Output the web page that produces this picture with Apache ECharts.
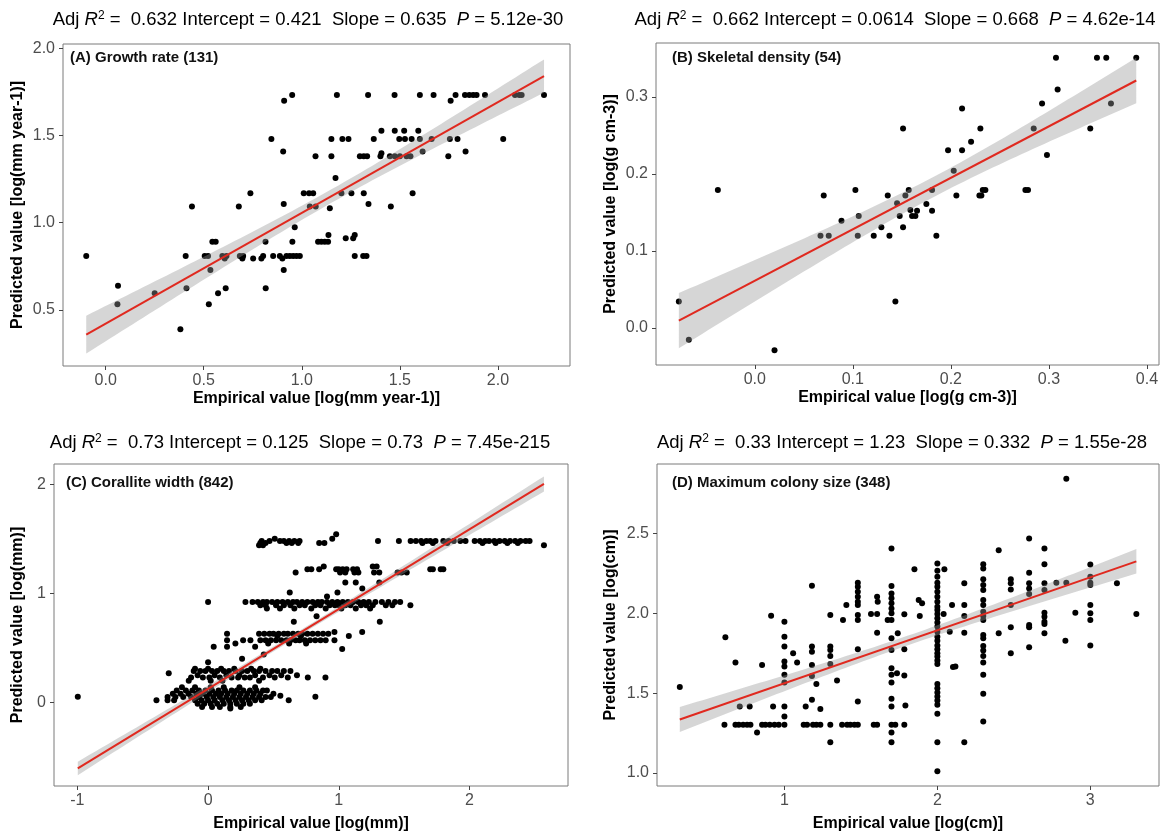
<!DOCTYPE html>
<html>
<head>
<meta charset="utf-8">
<script src="https://cdn.jsdelivr.net/npm/echarts@6/dist/echarts.min.js"></script>
<style>
  html, body { margin: 0; padding: 0; background: #ffffff; }
  #chart { width: 1168px; height: 837px; }
</style>
</head>
<body>
<div id="chart"></div>
<script>
// ---------- Panel (A): growth rate, rows of [predicted, [empirical...]] ----------
const growthRows = [
  [1.731, [0.951, 1.179, 1.338, 1.473, 1.602, 1.672, 1.784, 1.832, 1.854, 1.874, 1.891, 1.934, 2.087, 2.109, 2.121, 2.235]],
  [1.698, [0.910, 1.759]],
  [1.527, [1.406, 1.474, 1.522, 1.594]],
  [1.479, [0.845, 1.151, 1.207, 1.238, 1.367, 1.497, 1.526, 1.560, 1.602, 1.662, 1.755, 1.794, 2.027]],
  [1.407, [0.905, 1.616, 1.835]],
  [1.397, [1.406]],
  [1.380, [1.070, 1.151, 1.296, 1.316, 1.333, 1.401, 1.449, 1.474, 1.500, 1.534, 1.554, 1.747]],
  [1.256, [1.172]],
  [1.168, [0.738, 1.010, 1.037, 1.058, 1.202, 1.253, 1.316, 1.565]],
  [1.107, [0.908, 1.340]],
  [1.092, [0.440, 0.679, 1.041, 1.071, 1.454]],
  [1.082, [1.143]],
  [0.973, [0.964]],
  [0.929, [1.136, 1.270]],
  [0.910, [1.224, 1.262]],
  [0.891, [0.544, 0.561, 0.815, 0.952, 1.083, 1.100, 1.117, 1.134]],
  [0.809, [-0.099, 0.408, 0.505, 0.522, 0.595, 0.616, 0.684, 0.701, 0.803, 0.854, 0.888, 0.922, 0.939, 0.956, 0.973, 0.990, 1.270, 1.313, 1.330]],
  [0.794, [0.607, 0.697, 0.752, 0.794, 0.901]],
  [0.729, [0.534, 0.908]],
  [0.638, [0.063]],
  [0.624, [0.412, 0.612, 0.816]],
  [0.595, [0.250, 0.573]],
  [0.532, [0.060, 0.526]],
  [0.389, [0.381]]
];

// ---------- Panel (B): skeletal density ----------
const densityRows = [
  [0.3509, [0.3072, 0.3490, 0.3585, 0.3891]],
  [0.3095, [0.3089]],
  [0.2914, [0.2930, 0.3633]],
  [0.2849, [0.2114]],
  [0.2590, [0.1512, 0.2301, 0.2845, 0.3422]],
  [0.2417, [0.2206]],
  [0.2309, [0.1971, 0.2114]],
  [0.2245, [0.2980]],
  [0.2042, [0.2029]],
  [0.1791, [-0.0377, 0.1026, 0.1570, 0.1808, 0.2325, 0.2352, 0.2760, 0.2787]],
  [0.1722, [0.0703, 0.1356, 0.1536, 0.2056, 0.2291, 0.2311]],
  [0.1619, [0.1451]],
  [0.1610, [0.1750]],
  [0.1532, [0.1587]],
  [0.1524, [0.1655, 0.1808]],
  [0.1455, [0.1060, 0.1478, 0.1604, 0.1638]],
  [0.1394, [0.0884]],
  [0.1308, [0.1291, 0.1512]],
  [0.1200, [0.0670, 0.0754, 0.1050, 0.1213, 0.1373, 0.1852]],
  [0.0345, [-0.0775, 0.1434]],
  [-0.0151, [-0.0673]],
  [-0.0289, [0.0201]]
];

// ---------- Panel (C): corallite width ----------
const coralliteRows = [
  [1.54, [0.98]],
  [1.50, [0.51, 0.95]],
  [1.48, [0.41, 0.47, 0.55, 0.58, 0.62, 0.66, 0.70, 1.30, 1.46, 1.55, 1.59, 1.63, 1.67, 1.70, 1.74, 1.80, 1.84, 1.88, 1.93, 1.97, 2.04, 2.08, 2.12, 2.15, 2.19, 2.23, 2.27, 2.31, 2.35, 2.39, 2.43, 2.46]],
  [1.46, [0.40, 0.44, 0.60, 0.64, 0.69, 0.85, 0.89, 1.64, 1.72, 1.83, 2.10, 2.20, 2.29, 2.37]],
  [1.44, [0.39, 0.42, 2.57]],
  [1.245, [0.885, 1.26, 1.29]],
  [1.22, [0.76, 0.79, 0.85, 0.98, 1.00, 1.03, 1.06, 1.11, 1.14, 1.70, 1.72, 1.78, 1.80]],
  [1.19, [0.67, 1.01, 1.05, 1.12, 1.15, 1.27, 1.31, 1.45, 1.48, 1.52]],
  [1.10, [1.05, 1.13, 1.31]],
  [1.045, [1.18]],
  [1.008, [0.625, 0.99]],
  [0.97, [0.91]],
  [0.92, [0.0, 0.286, 0.34, 0.38, 0.42, 0.45, 0.49, 0.53, 0.57, 0.61, 0.65, 0.68, 0.72, 0.76, 0.80, 0.84, 0.87, 0.91, 0.95, 0.99, 1.03, 1.07, 1.11, 1.15, 1.19, 1.23, 1.28, 1.33, 1.38, 1.43, 1.47]],
  [0.89, [0.40, 0.44, 0.52, 0.58, 0.63, 0.70, 0.74, 0.82, 0.86, 0.93, 0.97, 1.00, 1.05, 1.09, 1.17, 1.21, 1.26, 1.36, 1.41, 1.548]],
  [0.86, [0.45, 0.55, 0.66, 0.79, 0.90, 1.02, 1.13, 1.24]],
  [0.79, [0.83]],
  [0.74, [0.656, 1.314]],
  [0.646, [0.967, 1.179]],
  [0.63, [0.145, 0.39, 0.43, 0.47, 0.50, 0.54, 0.58, 0.61, 0.65, 0.69, 0.72, 0.76, 0.80, 0.84, 0.88, 0.92]],
  [0.61, [0.53, 0.71, 1.077]],
  [0.57, [0.145, 0.268, 0.324, 0.40, 0.44, 0.48, 0.52, 0.56, 0.60, 0.63, 0.67, 0.70, 0.74, 0.78, 0.82, 0.86, 0.90, 0.967]],
  [0.54, [0.209, 0.46, 0.62, 0.75]],
  [0.51, [0.043, 0.145, 0.36]],
  [0.49, [1.026]],
  [0.44, [0.426]],
  [0.40, [0.26]],
  [0.37, [0.0]],
  [0.31, [-0.10, 0.00, 0.10, 0.20, 0.33, 0.40]],
  [0.29, [-0.11, -0.06, -0.02, 0.03, 0.07, 0.12, 0.16, 0.21, 0.26, 0.30, 0.35, 0.39, 0.44, 0.49, 0.53, 0.58, 0.63]],
  [0.268, [-0.301]],
  [0.25, [-0.08, 0.05, 0.14, 0.24, 0.36, 0.47, 0.56, 0.68]],
  [0.23, [-0.13, -0.04, 0.01, 0.09, 0.18, 0.23, 0.28, 0.32, 0.42, 0.51, 0.61, 0.763, 0.898]],
  [0.20, [-0.148, 0.02, 0.11, 0.39]],
  [0.14, [-0.20, -0.10, 0.02, 0.12, 0.24, 0.36]],
  [0.11, [-0.24, -0.17, -0.12, -0.07, -0.02, 0.03, 0.08, 0.13, 0.18, 0.22, 0.27, 0.32, 0.37, 0.42, 0.45]],
  [0.08, [-0.27, -0.21, -0.15, -0.09, -0.04, 0.01, 0.06, 0.10, 0.15, 0.20, 0.25, 0.30, 0.35, 0.40, 0.50]],
  [0.062, [0.553]],
  [0.053, [-0.997, 0.821]],
  [0.05, [-0.31, -0.25, -0.19, -0.13, -0.07, -0.01, 0.04, 0.09, 0.14, 0.19, 0.24, 0.29, 0.34, 0.39, 0.44, 0.48]],
  [0.02, [-0.395, -0.31, -0.26, -0.10, -0.05, 0.00, 0.05, 0.11, 0.16, 0.21, 0.26, 0.31, 0.36, 0.41, 0.617]],
  [-0.01, [-0.08, -0.03, 0.02, 0.07, 0.12, 0.17, 0.22, 0.27, 0.32]],
  [-0.04, [-0.046, 0.03, 0.09, 0.17, 0.25]],
  [-0.055, [0.17]]
];

// ---------- Panel (D): maximum colony size, columns of [empirical, [predicted...]] ----------
const colonyColumns = [
  [0.316, [1.538]], [0.614, [1.850]], [0.680, [1.692]], [0.708, [1.417]], [0.773, [1.417]],
  [0.821, [1.254]], [0.854, [1.677]], [0.913, [1.985]], [0.926, [1.417]],
  [1.0, [1.948, 1.854, 1.792, 1.698, 1.667, 1.615, 1.567, 1.417, 1.354]],
  [1.057, [1.750]], [1.083, [1.692]], [1.139, [1.417]],
  [1.18, [2.173, 1.792, 1.760, 1.677, 1.608, 1.458]],
  [1.209, [1.558]], [1.235, [1.400]],
  [1.30, [1.990, 1.792, 1.771, 1.733, 1.683, 1.192]],
  [1.344, [1.579]], [1.383, [1.958]], [1.405, [2.052]],
  [1.48, [2.192, 2.167, 2.135, 2.104, 2.073, 2.052, 1.990, 1.958, 1.775, 1.448]],
  [1.566, [1.996]], [1.606, [2.104, 1.996, 1.879]], [1.610, [2.073]], [1.675, [1.958]],
  [1.70, [2.406, 2.171, 2.125, 2.094, 2.063, 2.031, 2.000, 1.958, 1.844, 1.771, 1.656, 1.615, 1.567, 1.465, 1.417, 1.254, 1.192]],
  [1.736, [1.625]], [1.741, [1.875]], [1.784, [1.994, 1.775, 1.610]], [1.791, [1.423]],
  [1.850, [2.277]], [1.878, [2.083]], [1.885, [1.983]], [1.900, [2.063]],
  [2.0, [2.313, 2.267, 2.229, 2.192, 2.167, 2.135, 2.104, 2.073, 2.042, 2.021, 1.996, 1.969, 1.942, 1.917, 1.885, 1.854, 1.829, 1.798, 1.775, 1.750, 1.729, 1.704, 1.683, 1.558, 1.531, 1.504, 1.479, 1.454, 1.427, 1.371, 1.192, 1.010]],
  [2.041, [1.996]], [2.046, [2.277]], [2.081, [1.885]], [2.096, [2.052]], [2.102, [1.663]], [2.118, [1.667]],
  [2.176, [2.188, 2.052, 1.983, 1.879, 1.192]],
  [2.30, [2.308, 2.281, 2.213, 2.177, 2.146, 2.083, 2.052, 2.010, 1.983, 1.958, 1.865, 1.844, 1.796, 1.767, 1.733, 1.692, 1.615, 1.496, 1.323]],
  [2.401, [2.396, 1.875]],
  [2.48, [2.213, 2.188, 2.150, 2.052, 1.913, 1.750]],
  [2.60, [2.469, 2.254, 2.188, 2.156, 2.121, 1.927, 1.913, 1.788]],
  [2.70, [2.406, 2.308, 2.188, 2.146, 2.004, 1.979, 1.948, 1.933, 1.875]],
  [2.778, [2.192]], [2.837, [1.829]], [2.843, [2.844, 2.192]], [2.902, [2.004]],
  [3.0, [2.306, 2.229, 2.192, 2.177, 2.052, 2.000, 1.958, 1.798]],
  [3.174, [2.188]], [3.301, [1.996]]
];
const colonyRows = [
  [1.302, [0.608, 0.680, 0.702, 0.730, 0.756, 0.778, 0.854, 0.876, 0.904, 0.935, 0.963, 1.0, 1.126, 1.148, 1.187, 1.209, 1.235, 1.30, 1.377, 1.410, 1.431, 1.458, 1.48, 1.584, 1.606, 1.70, 1.725, 1.784]]
];

// ---------- Fit summaries ----------
const panelNames   = ['(A) Growth rate', '(B) Skeletal density', '(C) Corallite width', '(D) Maximum colony size'];
const sampleSizes  = [131, 54, 842, 348];
const adjR2        = ['0.632', '0.662', '0.73', '0.33'];
const fitIntercept = [0.421, 0.0614, 0.125, 1.23];
const fitSlope     = [0.635, 0.668, 0.73, 0.332];
const pValues      = ['5.12e-30', '4.62e-14', '7.45e-215', '1.55e-28'];

// ---------- Axis text ----------
const xTitles = ['Empirical value [log(mm year-1)]', 'Empirical value [log(g cm-3)]', 'Empirical value [log(mm)]', 'Empirical value [log(cm)]'];
const yTitles = ['Predicted value [log(mm year-1)]', 'Predicted value [log(g cm-3)]', 'Predicted value [log(mm)]', 'Predicted value [log(cm)]'];
const xTicks = [[0, 0.5, 1, 1.5, 2], [0, 0.1, 0.2, 0.3, 0.4], [-1, 0, 1, 2], [1, 2, 3]];
const yTicks = [[0.5, 1, 1.5, 2], [0, 0.1, 0.2, 0.3], [0, 1, 2], [1, 1.5, 2, 2.5]];
const xDigits = [1, 1, 0, 0];
const yDigits = [1, 1, 0, 1];

// ---------- helpers ----------
function fromRows(rows) {
  const out = [];
  rows.forEach(([y, xs]) => xs.forEach(x => out.push([x, y])));
  return out;
}
function fromColumns(cols) {
  const out = [];
  cols.forEach(([x, ys]) => ys.forEach(y => out.push([x, y])));
  return out;
}
// 95% confidence ribbon around the stated fit line
function fitBand(points, b, m, N, steps) {
  const n = points.length;
  const xs = points.map(p => p[0]);
  const xbar = xs.reduce((a, v) => a + v, 0) / n;
  const varx = xs.reduce((a, v) => a + (v - xbar) * (v - xbar), 0) / n;
  const s = Math.sqrt(points.reduce((a, [x, y]) => a + Math.pow(y - b - m * x, 2), 0) / (n - 2));
  const x0 = Math.min(...xs), x1 = Math.max(...xs);
  const upper = [], lower = [];
  for (let k = 0; k <= steps; k++) {
    const x = x0 + (x1 - x0) * k / steps;
    const yh = b + m * x;
    const h = 1.96 * s * Math.sqrt(1 / N + (x - xbar) * (x - xbar) / (N * varx));
    upper.push([x, yh + h]);
    lower.push([x, yh - h]);
  }
  return { upper, lower, x0, x1 };
}

const pointSets = [
  fromRows(growthRows),
  fromRows(densityRows),
  fromRows(coralliteRows),
  fromColumns(colonyColumns).concat(fromRows(colonyRows))
];

// ---------- layout ----------
const FONT = '"Liberation Sans", Arial, Helvetica, sans-serif';
const RED = '#e0291f';
const layout = [
  { left: 63,  top: 44,  width: 507, height: 322, xr: [-0.2175, 2.3675], yr: [0.178, 2.024],  headX: 308, headY: 20,  tagX: 70,  tagY: 58,  yGap: 37, xGap: 25 },
  { left: 656, top: 43,  width: 503, height: 322, xr: [-0.1008, 0.4123], yr: [-0.0479, 0.370], headX: 895, headY: 20,  tagX: 672, tagY: 58,  yGap: 37, xGap: 25 },
  { left: 54,  top: 464, width: 514, height: 322, xr: [-1.179, 2.754],   yr: [-0.764, 2.184],  headX: 300, headY: 443, tagX: 66,  tagY: 483, yGap: 28, xGap: 30 },
  { left: 657, top: 464, width: 502, height: 322, xr: [0.167, 3.449],    yr: [0.918, 2.936],   headX: 902, headY: 443, tagX: 672, tagY: 483, yGap: 38, xGap: 30 }
];

const grids = [], xAxes = [], yAxes = [], series = [], graphics = [];

layout.forEach((L, i) => {
  grids.push({
    left: L.left, top: L.top, width: L.width, height: L.height,
    show: true, borderColor: '#7a7a7a', borderWidth: 1, backgroundColor: 'transparent'
  });
  const axisCommon = {
    type: 'value',
    gridIndex: i,
    axisLine: { show: false, onZero: false },
    splitLine: { show: false },
    nameLocation: 'middle',
    nameTextStyle: { fontFamily: FONT, fontWeight: 'bold', fontSize: 16, color: '#000' }
  };
  xAxes.push(Object.assign({}, axisCommon, {
    min: L.xr[0], max: L.xr[1],
    name: xTitles[i], nameGap: L.xGap,
    axisTick: { show: true, length: 4, lineStyle: { color: '#444' }, customValues: xTicks[i] },
    axisLabel: {
      customValues: xTicks[i], margin: 7, color: '#4d4d4d', fontSize: 16, fontFamily: FONT,
      formatter: v => Number(v).toFixed(xDigits[i])
    }
  }));
  yAxes.push(Object.assign({}, axisCommon, {
    min: L.yr[0], max: L.yr[1],
    name: yTitles[i], nameGap: L.yGap,
    axisTick: { show: true, length: 4, lineStyle: { color: '#444' }, customValues: yTicks[i] },
    axisLabel: {
      customValues: yTicks[i], margin: 8, color: '#4d4d4d', fontSize: 16, fontFamily: FONT,
      formatter: v => Number(v).toFixed(yDigits[i])
    }
  }));

  const pts = pointSets[i];
  const b = fitIntercept[i], m = fitSlope[i];
  const band = fitBand(pts, b, m, sampleSizes[i], 80);

  series.push({
    type: 'scatter', xAxisIndex: i, yAxisIndex: i, z: 2,
    symbol: 'circle', symbolSize: 6,
    itemStyle: { color: '#000', opacity: 1 },
    data: pts, silent: true
  });
  series.push({
    type: 'custom', xAxisIndex: i, yAxisIndex: i, z: 3, silent: true,
    data: [[band.x0, b + m * band.x0]],
    renderItem: (params, api) => {
      const poly = band.upper.map(p => api.coord(p))
        .concat(band.lower.slice().reverse().map(p => api.coord(p)));
      return { type: 'polygon', shape: { points: poly }, style: { fill: 'rgba(153,153,153,0.4)' } };
    }
  });
  series.push({
    type: 'line', xAxisIndex: i, yAxisIndex: i, z: 4, silent: true,
    showSymbol: false, symbol: 'none',
    lineStyle: { color: RED, width: 2 },
    data: [[band.x0, b + m * band.x0], [band.x1, b + m * band.x1]]
  });

  // header with the fit statistics
  graphics.push({
    type: 'text', x: L.headX, y: L.headY, silent: true,
    style: {
      text: 'Adj {i|R}{s|2} =  ' + adjR2[i] + ' Intercept = ' + String(fitIntercept[i]) +
            '  Slope = ' + String(fitSlope[i]) + '  {i|P} = ' + pValues[i],
      fontFamily: FONT, fontSize: 18.5, fill: '#000',
      align: 'center', verticalAlign: 'middle',
      rich: {
        i: { fontFamily: FONT, fontSize: 18.5, fontStyle: 'italic', fill: '#000', color: '#000' },
        s: { fontFamily: FONT, fontSize: 12, fill: '#000', color: '#000', verticalAlign: 'bottom', padding: [0, 0, 9, 0] }
      }
    }
  });
  // panel tag
  graphics.push({
    type: 'text', x: L.tagX, y: L.tagY, silent: true,
    style: {
      text: panelNames[i] + ' (' + sampleSizes[i] + ')',
      fontFamily: FONT, fontSize: 15, fontWeight: 'bold', fill: '#111',
      align: 'left', verticalAlign: 'middle'
    }
  });
});

const chart = echarts.init(document.getElementById('chart'), null, { renderer: 'canvas' });
chart.setOption({
  backgroundColor: '#ffffff',
  animation: false,
  grid: grids,
  xAxis: xAxes,
  yAxis: yAxes,
  series: series,
  graphic: graphics
});
</script>
</body>
</html>
